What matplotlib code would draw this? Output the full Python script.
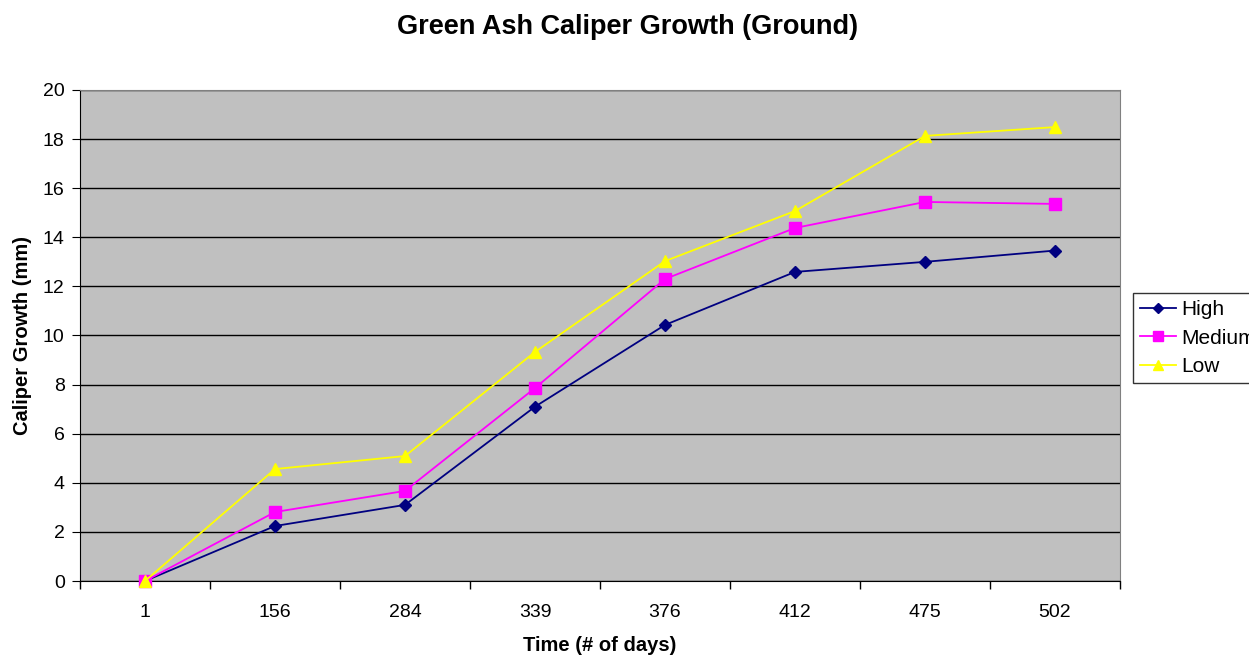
import matplotlib
matplotlib.use("Agg")
import matplotlib.pyplot as plt
import numpy as np

plt.rcParams['font.family'] = ['Liberation Sans', 'DejaVu Sans']

days = ["1", "156", "284", "339", "376", "412", "475", "502"]
high = [0.0, 2.24, 3.10, 7.10, 10.43, 12.59, 13.00, 13.46]
medium = [0.0, 2.81, 3.67, 7.86, 12.30, 14.38, 15.44, 15.36]
low = [0.0, 4.56, 5.09, 9.33, 13.03, 15.07, 18.13, 18.49]

fig = plt.figure(figsize=(12.49, 6.56), dpi=100)
ax = fig.add_axes([80/1249, 75/656, 1040/1249, 491/656])
ax.set_facecolor('#C0C0C0')

x = np.arange(len(days))
ax.plot(x, high, color='#000080', marker='D', markersize=6, lw=1.3, label='High', clip_on=False, zorder=5)
ax.plot(x, medium, color='#FF00FF', marker='s', markersize=8, lw=1.3, label='Medium', clip_on=False, zorder=5)
ax.plot(x, low, color='#FFFF00', marker='^', markersize=9, lw=1.3, label='Low', clip_on=False, zorder=5)

ax.set_xlim(-0.5, len(days) - 0.5)
ax.set_ylim(0, 20)
ax.set_yticks(np.arange(0, 21, 2))
ax.yaxis.grid(True, color='black', lw=1)
ax.set_axisbelow(True)
ax.set_xticks(x)
ax.set_xticklabels(days)
ax.set_xticks(np.arange(-0.5, len(days), 1), minor=True)
ax.tick_params(axis='x', which='major', length=0, pad=16.5, labelsize=14)
ax.tick_params(axis='x', which='minor', length=6, direction='out', width=1)
ax.tick_params(axis='y', length=6, direction='out', labelsize=14, pad=5)

for s in ['top', 'right']:
    ax.spines[s].set_color('#808080')
for s in ['left', 'bottom']:
    ax.spines[s].set_color('black')

ax.set_xlabel('Time (# of days)', fontsize=14.5, fontweight='bold', labelpad=11)
ax.set_ylabel('Caliper Growth (mm)', fontsize=14.5, fontweight='bold', labelpad=8)
fig.text(628/1249, 1 - 27/656, 'Green Ash Caliper Growth (Ground)', ha='center', va='center',
         fontsize=19.5, fontweight='bold')

leg = ax.legend(loc='upper left', bbox_to_anchor=(1133/1249, 1 - 293/656), bbox_transform=fig.transFigure,
                frameon=True, fancybox=False, edgecolor='black', fontsize=15, handlelength=1.7,
                handletextpad=0.25, borderpad=0.35, labelspacing=0.45, borderaxespad=0,
                markerscale=0.85)
leg.get_frame().set_linewidth(1)

fig.savefig('out.png', dpi=100)
